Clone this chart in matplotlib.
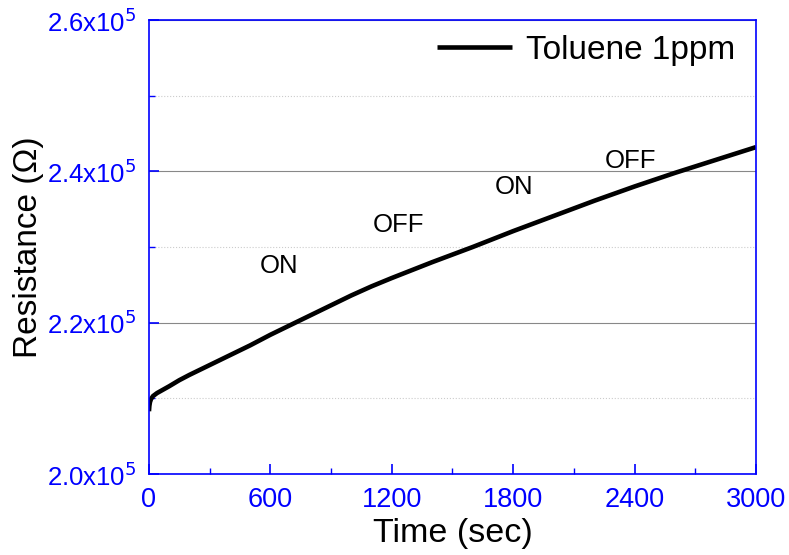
import matplotlib
matplotlib.use("Agg")
import matplotlib.pyplot as plt
from matplotlib.ticker import MultipleLocator, FuncFormatter

plt.rcParams['font.family'] = ['Liberation Sans', 'DejaVu Sans']

time_s = [0, 2, 5, 10, 20, 40, 60, 100, 150, 200, 300, 400, 500, 600, 700, 800,
          900, 1000, 1100, 1200, 1400, 1600, 1800, 2000, 2200, 2400, 2600, 2800, 3000]
resistance = [2.083, 2.090, 2.095, 2.099, 2.103, 2.107, 2.110, 2.116, 2.124, 2.131,
              2.144, 2.157, 2.170, 2.184, 2.197, 2.210, 2.223, 2.236, 2.248, 2.259,
              2.280, 2.300, 2.321, 2.341, 2.361, 2.380, 2.398, 2.415, 2.432]
resistance = [r * 1e5 for r in resistance]

ann_text = ["ON", "OFF", "ON", "OFF"]
ann_x = [641, 1231, 1804, 2382]
ann_y = [2.275e5, 2.329e5, 2.379e5, 2.414e5]

blue = '#0000ff'
fig = plt.figure(figsize=(7.89, 5.55), dpi=100)
ax = fig.add_axes([0.1888, 0.1459, 0.9582 - 0.1888, 0.964 - 0.1459])

ax.plot(time_s, resistance, color='black', lw=3.3, label='Toluene 1ppm',
        solid_capstyle='butt', solid_joinstyle='round')
for t, x, y in zip(ann_text, ann_x, ann_y):
    ax.text(x, y, t, fontsize=18.5, ha='center', va='center', color='black')

ax.set_xlim(0, 3000)
ax.set_ylim(2.0e5, 2.6e5)
ax.xaxis.set_major_locator(MultipleLocator(600))
ax.xaxis.set_minor_locator(MultipleLocator(300))
ax.yaxis.set_major_locator(MultipleLocator(0.2e5))
ax.yaxis.set_minor_locator(MultipleLocator(0.1e5))

def yfmt(v, pos):
    return r'%.1fx10$^{5}$' % (v / 1e5)
ax.yaxis.set_major_formatter(FuncFormatter(yfmt))

ax.grid(which='major', axis='y', color='#888888', lw=0.8, ls='-')
ax.grid(which='minor', axis='y', color='#cccccc', lw=0.8, ls=':')

for s in ax.spines.values():
    s.set_color(blue)
    s.set_linewidth(1.2)

ax.tick_params(which='both', direction='in', colors=blue)
ax.tick_params(which='major', length=7, width=1.2)
ax.tick_params(which='minor', length=4, width=1)
ax.tick_params(axis='y', labelcolor=blue, labelsize=18.5, pad=9)
ax.tick_params(axis='x', labelcolor=blue, labelsize=19.5, pad=9)

ax.set_xlabel('Time (sec)', fontsize=24.5, color='black', labelpad=4)
ax.set_ylabel('Resistance (\u03a9)', fontsize=24, color='black', labelpad=2)

leg = ax.legend(loc='upper right', bbox_to_anchor=(0.987, 0.996), frameon=False,
                fontsize=24, handlelength=2.25, handletextpad=0.4,
                borderaxespad=0.1, borderpad=0.3)

fig.savefig('out.png', dpi=100)
